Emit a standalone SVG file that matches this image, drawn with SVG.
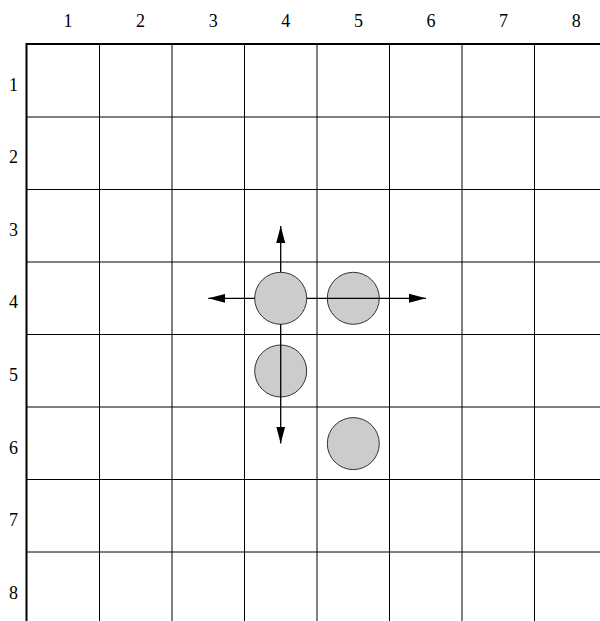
<svg xmlns="http://www.w3.org/2000/svg" width="600" height="621" viewBox="0 0 600 621">
<style>
.lbl{font-family:"Liberation Serif","Times New Roman",serif;font-size:18px;fill:#000;text-anchor:middle}
.grid{stroke:#000;stroke-width:1;fill:none}
.border{stroke:#000;stroke-width:2;fill:none}
.stone{fill:#cccccc;stroke:#333;stroke-width:1}
.arr{stroke:#000;stroke-width:1.3;fill:none;marker-end:url(#ah)}
</style>
<defs>
<marker id="ah" markerUnits="userSpaceOnUse" markerWidth="18" markerHeight="10" refX="17" refY="5" orient="auto">
<path d="M0,0.5 L17,5 L0,9.5 Z" fill="#000"/>
</marker>
</defs>
<rect width="600" height="621" fill="#fff"/>
<g id="labels">
<text class="lbl" x="68" y="27">1</text>
<text class="lbl" x="140.6" y="27">2</text>
<text class="lbl" x="213.2" y="27">3</text>
<text class="lbl" x="285.8" y="27">4</text>
<text class="lbl" x="358.4" y="27">5</text>
<text class="lbl" x="431" y="27">6</text>
<text class="lbl" x="503.6" y="27">7</text>
<text class="lbl" x="576.2" y="27">8</text>
<text class="lbl" x="13.5" y="90.5">1</text>
<text class="lbl" x="13.5" y="163.1">2</text>
<text class="lbl" x="13.5" y="235.7">3</text>
<text class="lbl" x="13.5" y="308.3">4</text>
<text class="lbl" x="13.5" y="380.9">5</text>
<text class="lbl" x="13.5" y="453.5">6</text>
<text class="lbl" x="13.5" y="526.1">7</text>
<text class="lbl" x="13.5" y="598.7">8</text>
</g>
<g id="grid">
<path class="grid" d="M99.5,44V621M172,44V621M244.5,44V621M317,44V621M389.5,44V621M462,44V621M534.5,44V621M27,117H600M27,189.5H600M27,262H600M27,334.5H600M27,407H600M27,479.5H600M27,552H600"/>
<path class="border" d="M26.5,621V44H600"/>
</g>
<g id="stone-4-4"><circle class="stone" cx="280.7" cy="298.3" r="26"/></g>
<g id="stone-4-5"><circle class="stone" cx="353.3" cy="298.3" r="26"/></g>
<g id="stone-5-4"><circle class="stone" cx="280.7" cy="371" r="26"/></g>
<g id="stone-6-5"><circle class="stone" cx="353.3" cy="443.6" r="26"/></g>
<g id="connectors">
<line class="arr" x1="280.7" y1="272.3" x2="280.7" y2="226"/>
<line class="arr" x1="254.7" y1="298.3" x2="208.3" y2="298.3"/>
<line class="arr" x1="306.7" y1="298.3" x2="426" y2="298.3"/>
<line class="arr" x1="280.7" y1="324.3" x2="280.7" y2="443.5"/>
</g>
</svg>
